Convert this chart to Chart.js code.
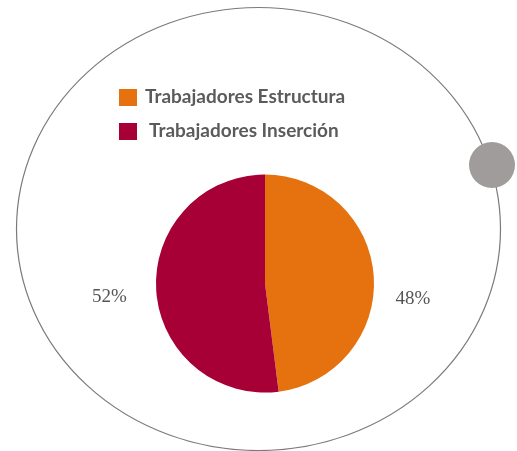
<!DOCTYPE html>
<html>
<head>
<meta charset="utf-8">
<script src="https://cdn.jsdelivr.net/npm/chart.js@4"></script>
<style>
html,body{margin:0;padding:0;background:#fff;}
#wrap{position:relative;width:517px;height:451px;}
</style>
</head>
<body>
<div id="wrap"><canvas id="c" width="517" height="451"></canvas></div>
<script>
const categories = ["Trabajadores Estructura", "Trabajadores Inserción"];
const values = [48, 52];
const percentLabels = ["48%", "52%"];
const colors = ["#E5720F", "#A60037"];

const decor = {
  id: 'decor',
  beforeDraw(chart) {
    const ctx = chart.ctx;
    ctx.save();
    ctx.strokeStyle = '#7a7a7a';
    ctx.lineWidth = 1.2;
    ctx.beginPath();
    ctx.ellipse(258.5, 229, 242, 221.5, 0, 0, Math.PI * 2);
    ctx.stroke();
    ctx.fillStyle = '#a09c9b';
    ctx.beginPath();
    ctx.arc(492, 165, 23, 0, Math.PI * 2);
    ctx.fill();
    ctx.restore();
  },
  afterDraw(chart) {
    const ctx = chart.ctx;
    ctx.save();
    // legend
    const legendY = [97, 131];
    const textX = [145, 149];
    ctx.font = 'bold 19px Lato';
    ctx.textBaseline = 'middle';
    chart.data.labels.forEach((lab, i) => {
      ctx.fillStyle = chart.data.datasets[0].backgroundColor[i];
      ctx.fillRect(119, legendY[i] - 8, 18, 17);
      ctx.fillStyle = '#5b5b5b';
      ctx.fillText(lab, textX[i], legendY[i]);
    });
    // percent labels
    const meta = chart.getDatasetMeta(0);
    ctx.font = '19px "Liberation Serif"';
    ctx.fillStyle = '#555';
    ctx.textAlign = 'center';
    const yOff = [25, 4];
    const distF = [1.36, 1.43];
    meta.data.forEach((arc, i) => {
      const mid = (arc.startAngle + arc.endAngle) / 2;
      const dist = arc.outerRadius * distF[i];
      const x = arc.x + Math.cos(mid) * dist;
      const y = arc.y + Math.sin(mid) * dist + yOff[i];
      ctx.fillText(percentLabels[i], x, y);
    });
    ctx.restore();
  }
};

new Chart(document.getElementById('c'), {
  type: 'pie',
  data: {
    labels: categories,
    datasets: [{
      data: values,
      backgroundColor: colors,
      borderWidth: 0
    }]
  },
  options: {
    responsive: false,
    animation: false,
    layout: { padding: { left: 156, right: 143, top: 174, bottom: 58 } },
    plugins: { legend: { display: false }, tooltip: { enabled: false } }
  },
  plugins: [decor]
});
</script>
</body>
</html>
